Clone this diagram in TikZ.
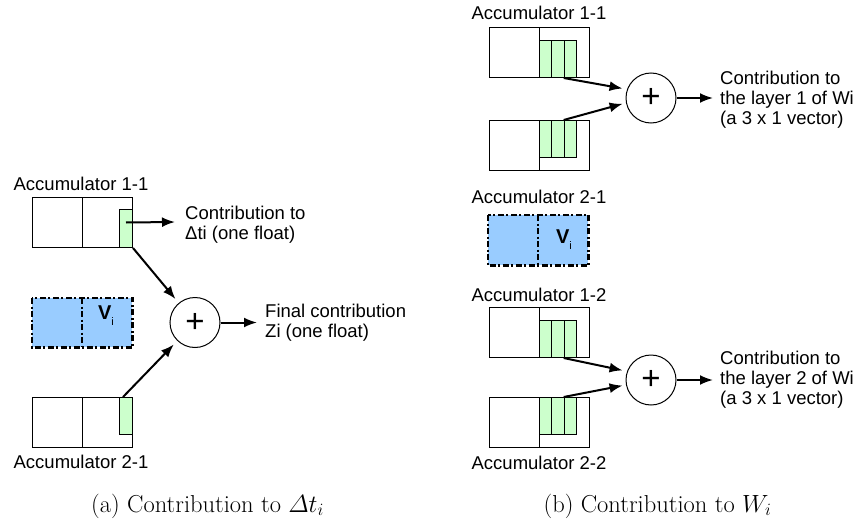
\documentclass[tikz,border=0pt]{standalone}
\usepackage{amsmath}
\usepackage{fontspec}
\newfontfamily\arial{Liberation Sans}
\usetikzlibrary{arrows.meta}
\definecolor{cellgreen}{HTML}{CCFFCC}
\definecolor{vblue}{HTML}{99CCFF}
\tikzset{
  half/.style={draw, line width=1pt, minimum width=50pt, minimum height=50pt, inner sep=0pt, anchor=north west},
  gcell/.style={draw, line width=1pt, fill=cellgreen, inner sep=0pt, anchor=north west},
  vhalf/.style={fill=vblue, minimum width=50pt, minimum height=49pt, inner sep=0pt, anchor=north west},
  dd/.style={line width=2.6pt, dash pattern=on 6pt off 2.5pt on 2pt off 2.5pt},
  plusnode/.style={draw, circle, line width=1pt, inner sep=0pt, minimum size=50pt, font=\arial\fontsize{33}{33}\selectfont},
  lbl/.style={font=\arial\fontsize{18.5}{20}\selectfont, inner sep=0pt},
  note/.style={font=\arial\fontsize{18.5}{20}\selectfont, inner sep=0pt, anchor=west, align=left},
  arr/.style={line width=2pt, -{Latex[length=13pt,width=10pt]}},
  captext/.style={font=\fontsize{24.5}{26}\selectfont, inner sep=0pt, anchor=base},
}
\newcommand{\vsym}{\textbf{V}\raisebox{-6pt}{\fontsize{11}{11}\selectfont i}}
\begin{document}
\begin{tikzpicture}[x=1pt,y=-1pt]
\useasboundingbox (0,0) rectangle (862,519);
% ---------- (a) ----------
\node[lbl] (la1) at (81,184) {Accumulator 1-1};
\node[half] (a1l) at (32,197) {};
\node[half] (a1r) at (82,197) {};
\node[gcell, minimum width=13pt, minimum height=38pt] (ag1) at (119,209) {};
\node[vhalf] (avl) at (32,298) {};
\node[vhalf] (avr) at (82,298) {};
\draw[dd] (avl.north west) rectangle (avr.south east);
\draw[dd, line width=2pt] (avl.north east) -- (avl.south east);
\node[font=\arial\fontsize{20}{20}\selectfont, inner sep=0pt] (avt) at (106,316) {\vsym};
\node[half] (a2l) at (32,397) {};
\node[half] (a2r) at (82,397) {};
\node[gcell, minimum width=13pt, minimum height=37pt] (ag2) at (119,397) {};
\node[lbl] (la2) at (81,462) {Accumulator 2-1};
\node[plusnode] (ap) at (195,322.5) {+};
\coordinate (aout1) at (175,222);
\coordinate (aout2) at (257,322.5);
\draw[arr] ([yshift=6pt]ag1.center) -- (aout1);
\node[note] (an1) at (185,225) {Contribution to\\Δti (one float)};
\draw[arr, shorten >=5pt] (ag1.south east) -- (ap);
\draw[arr, shorten >=5pt] ([xshift=-3pt]ag2.north) -- (ap);
\draw[arr] (ap.east) -- (aout2);
\node[note] (an2) at (265,323) {Final contribution\\Zi (one float)};
\node[captext] (capa) at (207.5,512) {(a) Contribution to $\varDelta t_i$};
% ---------- (b) ----------
\node[lbl] (lb11) at (539,13) {Accumulator 1-1};
\node[half] (b1l) at (489,27) {};
\node[half] (b1r) at (539,27) {};
\node[gcell, minimum width=12.33pt, minimum height=37pt] (b1g1) at (539,40) {};
\node[gcell, minimum width=12.33pt, minimum height=37pt] (b1g2) at (551.33,40) {};
\node[gcell, minimum width=12.33pt, minimum height=37pt] (b1g3) at (563.67,40) {};
\node[half] (b2l) at (489,120) {};
\node[half] (b2r) at (539,120) {};
\node[gcell, minimum width=12.33pt, minimum height=37pt] (b2g1) at (539,120) {};
\node[gcell, minimum width=12.33pt, minimum height=37pt] (b2g2) at (551.33,120) {};
\node[gcell, minimum width=12.33pt, minimum height=37pt] (b2g3) at (563.67,120) {};
\node[lbl] (lb21) at (539,197) {Accumulator 2-1};
\node[plusnode] (bp1) at (651,98) {+};
\draw[arr, shorten >=3pt] (b1g3.south west) -- ([yshift=9pt]bp1.west);
\draw[arr, shorten >=3pt] (b2g3.north west) -- ([yshift=-5pt]bp1.west);
\coordinate (bout1) at (713,98);
\draw[arr] (bp1.east) -- (bout1);
\node[note] (bn1) at (720,100) {Contribution to\\the layer 1 of Wi\\(a 3 x 1 vector)};
% V_i
\node[vhalf, minimum height=50pt] (bvl) at (488,215) {};
\node[vhalf, minimum height=50pt] (bvr) at (538,215) {};
\draw[dd] (bvl.north west) rectangle (bvr.south east);
\draw[dd, line width=2pt] (bvl.north east) -- (bvl.south east);
\node[font=\arial\fontsize{20}{20}\selectfont, inner sep=0pt] (bvt) at (564,240) {\vsym};
% layer 2
\node[lbl] (lb12) at (539,295) {Accumulator 1-2};
\node[half] (b3l) at (489,307) {};
\node[half] (b3r) at (539,307) {};
\node[gcell, minimum width=12.33pt, minimum height=37pt] (b3g1) at (539,320) {};
\node[gcell, minimum width=12.33pt, minimum height=37pt] (b3g2) at (551.33,320) {};
\node[gcell, minimum width=12.33pt, minimum height=37pt] (b3g3) at (563.67,320) {};
\node[half] (b4l) at (489,397) {};
\node[half] (b4r) at (539,397) {};
\node[gcell, minimum width=12.33pt, minimum height=37pt] (b4g1) at (539,397) {};
\node[gcell, minimum width=12.33pt, minimum height=37pt] (b4g2) at (551.33,397) {};
\node[gcell, minimum width=12.33pt, minimum height=37pt] (b4g3) at (563.67,397) {};
\node[lbl] (lb22) at (539,463) {Accumulator 2-2};
\node[plusnode] (bp2) at (651,380) {+};
\draw[arr, shorten >=3pt] (b3g3.south west) -- ([yshift=9pt]bp2.west);
\draw[arr, shorten >=3pt] (b4g3.north west) -- ([yshift=-5pt]bp2.west);
\coordinate (bout2) at (713,380);
\draw[arr] (bp2.east) -- (bout2);
\node[note] (bn2) at (720,380) {Contribution to\\the layer 2 of Wi\\(a 3 x 1 vector)};
\node[captext] (capb) at (657.5,512) {(b) Contribution to $W_i$};
\end{tikzpicture}
\end{document}
